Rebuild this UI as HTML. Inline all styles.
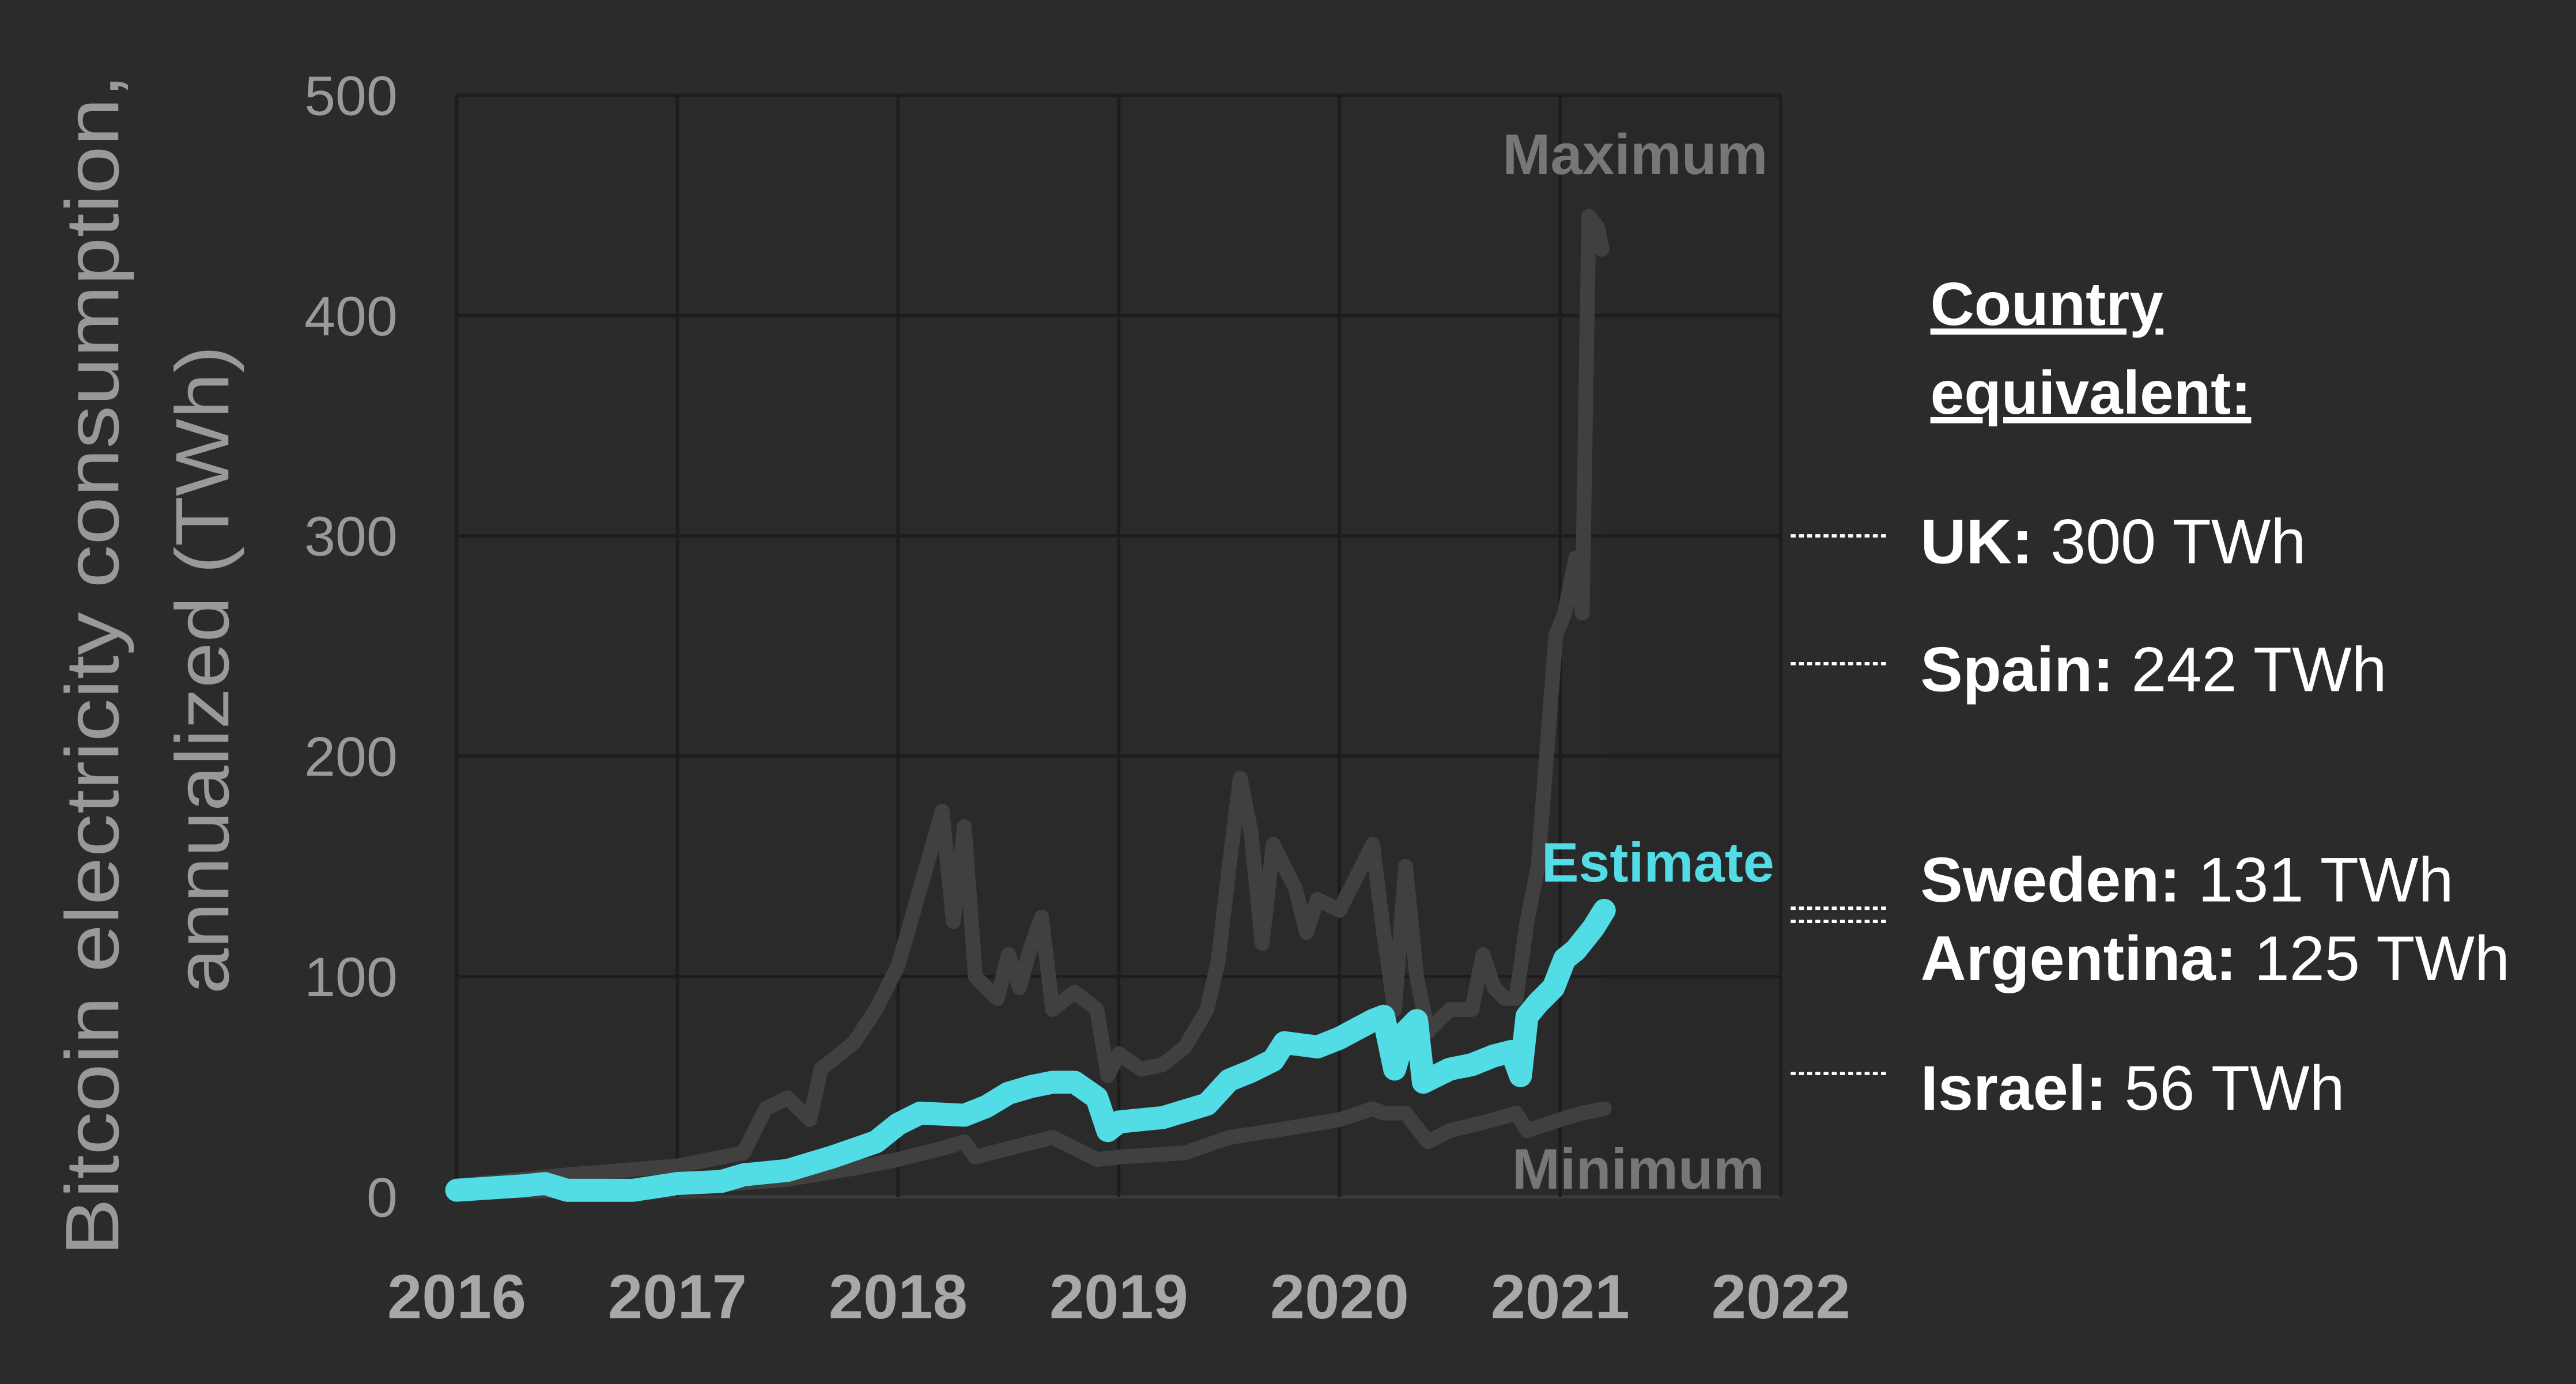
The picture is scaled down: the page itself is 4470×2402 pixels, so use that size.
<!DOCTYPE html>
<html><head><meta charset="utf-8"><style>
html,body{margin:0;padding:0;background:#2b2b2b;}
svg{display:block;}
</style></head><body>
<svg id="chart" width="4470" height="2402" viewBox="0 0 1568 843" preserveAspectRatio="none" xmlns="http://www.w3.org/2000/svg" font-family="'Liberation Sans', sans-serif">
<rect x="0" y="0" width="1568" height="843" fill="#2b2b2b"/>
<g id="plot"></g>
</svg>
<script>
const yearTicks = [2016, 2017, 2018, 2019, 2020, 2021, 2022];
const valueTicks = [0, 100, 200, 300, 400, 500];
const estT = [2016.0,2016.3,2016.4,2016.5,2016.8,2017.0,2017.2,2017.3,2017.5,2017.7,2017.9,2018.0,2018.1,2018.3,2018.4,2018.5,2018.6,2018.7,2018.8,2018.9,2018.95,2019.0,2019.2,2019.4,2019.5,2019.6,2019.7,2019.75,2019.9,2020.0,2020.15,2020.2,2020.25,2020.3,2020.35,2020.38,2020.5,2020.6,2020.7,2020.78,2020.82,2020.85,2020.9,2020.97,2021.02,2021.07,2021.15,2021.2];
const estV = [3,5,6,3,3,6,7,10,12,18,25,33,38,37,41,47,50,52,52,45,30,34,36,42,53,57,62,70,68,72,80,82,58,75,80,52,58,60,64,66,55,82,88,95,108,112,122,130];
const maxT = [2016.0,2016.5,2017.0,2017.3,2017.4,2017.5,2017.6,2017.65,2017.8,2017.9,2018.0,2018.1,2018.2,2018.25,2018.3,2018.35,2018.45,2018.5,2018.55,2018.6,2018.65,2018.7,2018.8,2018.9,2018.95,2019.0,2019.1,2019.2,2019.3,2019.4,2019.45,2019.5,2019.55,2019.6,2019.65,2019.7,2019.8,2019.85,2019.9,2020.0,2020.1,2020.15,2020.2,2020.25,2020.3,2020.35,2020.4,2020.5,2020.6,2020.65,2020.7,2020.75,2020.8,2020.85,2020.9,2020.98,2021.02,2021.07,2021.1,2021.13,2021.17,2021.19];
const maxV = [5,10,14,20,40,45,35,58,70,85,105,140,175,125,168,100,90,110,95,113,127,85,93,85,55,65,58,60,68,85,107,150,190,165,115,160,140,120,135,130,150,160,120,85,150,100,75,85,85,110,95,90,90,125,150,255,265,290,265,445,440,430];
const minT = [2016.0,2016.5,2017.0,2017.5,2017.8,2018.0,2018.2,2018.3,2018.35,2018.5,2018.7,2018.8,2018.9,2019.0,2019.3,2019.5,2019.7,2020.0,2020.15,2020.2,2020.3,2020.4,2020.5,2020.7,2020.8,2020.85,2021.0,2021.1,2021.2];
const minV = [3,3,4,8,13,17,22,25,18,22,27,22,17,18,20,27,30,35,40,38,38,25,30,35,38,30,35,38,40];
const countryNames = ["UK", "Spain", "Sweden", "Argentina", "Israel"];
const countryValues = [300, 242, 131, 125, 56];

const NS = "http://www.w3.org/2000/svg";
const X0 = 278, X1 = 1084, Y0 = 729, Y1 = 58;
const xs = t => X0 + (t - 2016) / 6 * (X1 - X0);
const ys = v => Y0 - v / 500 * (Y0 - Y1);
const plot = document.getElementById('plot');
function mk(tag, attrs, parent) {
  const e = document.createElementNS(NS, tag);
  for (const k in attrs) e.setAttribute(k, attrs[k]);
  (parent || plot).appendChild(e);
  return e;
}
let r = mk('rect', {x: X0, y: Y1, width: X1 - X0, height: Y0 - Y1, fill: '#282828'});


let sh = mk('rect', {x: X0, y: Y1, width: xs(2021.19) - X0, height: Y0 - Y1, fill: '#2a2a2a'});


valueTicks.forEach(v => {
  const l = mk('line', {x1: X0, x2: X1, y1: ys(v), y2: ys(v), stroke: v === 0 ? '#3a3a3a' : '#1d1d1d', 'stroke-width': 2});
  
  
  const t = mk('text', {x: 242, y: ys(v) + 12, 'text-anchor': 'end', 'font-size': 34, fill: '#9a9a9a'});
  t.textContent = v;
  
  
});
yearTicks.forEach(y => {
  const l = mk('line', {x1: xs(y), x2: xs(y), y1: Y1, y2: Y0, stroke: '#1d1d1d', 'stroke-width': 2});
  
  
  const t = mk('text', {x: xs(y), y: 803, 'text-anchor': 'middle', 'font-size': 38, 'font-weight': 'bold', fill: '#a8a8a8'});
  t.textContent = y;
  
  
});
function series(T, V, color, w, name) {
  const d = T.map((t, i) => (i ? 'L' : 'M') + xs(t).toFixed(1) + ',' + ys(V[i]).toFixed(1)).join(' ');
  const p = mk('path', {d: d, fill: 'none', stroke: color, 'stroke-width': w, 'stroke-linejoin': 'round', 'stroke-linecap': 'round'});
  
  
}
series(minT, minV, '#404040', 9, 'minimum-line');
series(maxT, maxV, '#404040', 9, 'maximum-line');
series(estT, estV, '#52dce6', 14, 'estimate-line');
function label(x, y, txt, size, color, name, anchor, weight) {
  const t = mk('text', {x: x, y: y, 'font-size': size, fill: color, 'text-anchor': anchor || 'start', 'font-weight': weight || 'bold'});
  t.textContent = txt;
  
  
  return t;
}
label(1076, 106, 'Maximum', 35, '#777', 'maximum-label', 'end');
label(1074, 724, 'Minimum', 35, '#777', 'minimum-label', 'end');
label(1080, 537, 'Estimate', 34, '#52dce6', 'estimate-label', 'end');
const yt1 = label(0, 0, 'Bitcoin electricity consumption,', 46, '#999', 'y-axis-title-line1', 'middle', 'normal');
yt1.setAttribute('textLength', 720);
yt1.setAttribute('lengthAdjust', 'spacingAndGlyphs');
yt1.setAttribute('transform', 'translate(72,405) rotate(-90)');
const yt2 = label(0, 0, 'annualized (TWh)', 46, '#999', 'y-axis-title-line2', 'middle', 'normal');
yt2.setAttribute('textLength', 395);
yt2.setAttribute('lengthAdjust', 'spacingAndGlyphs');
yt2.setAttribute('transform', 'translate(139,408) rotate(-90)');
const h1 = label(1175, 198, 'Country', 37, '#fff', 'country-header-line1');
h1.setAttribute('text-decoration', 'underline');
const h2 = label(1175, 252, 'equivalent:', 37, '#fff', 'country-header-line2');
h2.setAttribute('text-decoration', 'underline');
const labelY = [343, 421, 549, 597, 676];
countryNames.forEach((n, i) => {
  const l = mk('line', {x1: 1090, x2: 1148, y1: ys(countryValues[i]), y2: ys(countryValues[i]), stroke: '#fff', 'stroke-width': 2, 'stroke-dasharray': '3 2'});
  
  
  const t = mk('text', {x: 1169, y: labelY[i], 'font-size': 38.5, fill: '#fff'});
  
  
  const b = mk('tspan', {'font-weight': 'bold'}, t);
  b.textContent = n + ':';
  const s = mk('tspan', {}, t);
  s.textContent = ' ' + countryValues[i] + ' TWh';
});
</script>
</body></html>
